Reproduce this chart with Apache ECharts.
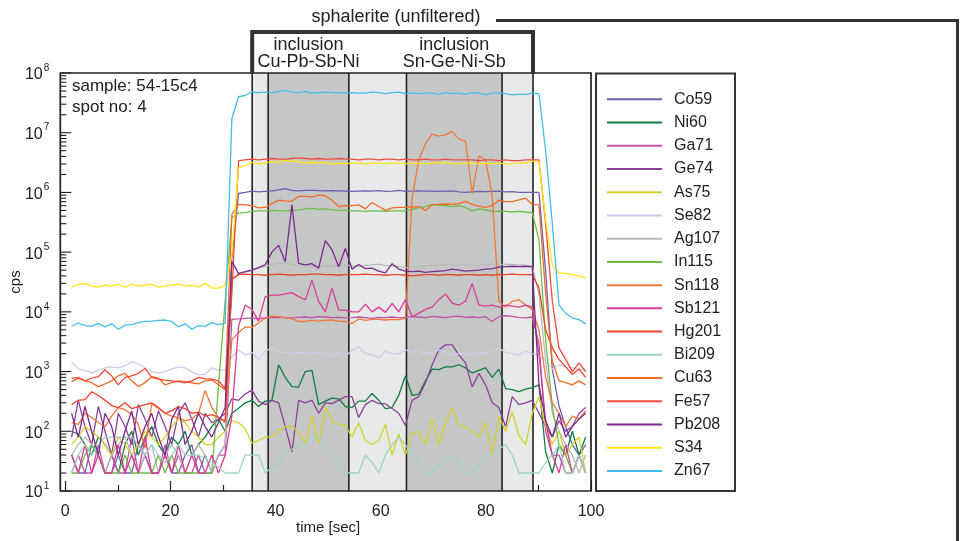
<!DOCTYPE html>
<html>
<head>
<meta charset="utf-8">
<script src="https://cdn.jsdelivr.net/npm/echarts@6/dist/echarts.min.js"></script>
<style>
  html, body { margin: 0; padding: 0; background: #ffffff; }
  #chart { width: 961px; height: 541px; }
</style>
</head>
<body>
<div id="chart"></div>
<script>
// Acquisition time of each sweep [sec]
const times = [
  1.20, 2.47, 3.74, 5.01, 6.28, 7.55, 8.82, 10.09, 11.36, 12.63,
  13.90, 15.17, 16.44, 17.71, 18.98, 20.25, 21.52, 22.79, 24.06, 25.33,
  26.60, 27.87, 29.14, 30.41, 31.68, 32.95, 34.22, 35.49, 36.76, 38.03,
  39.30, 40.57, 41.84, 43.11, 44.38, 45.65, 46.92, 48.19, 49.46, 50.73,
  52.00, 53.27, 54.54, 55.81, 57.08, 58.35, 59.62, 60.89, 62.16, 63.43,
  64.70, 65.97, 67.24, 68.51, 69.78, 71.05, 72.32, 73.59, 74.86, 76.13,
  77.40, 78.67, 79.94, 81.21, 82.48, 83.75, 85.02, 86.29, 87.56, 88.83,
  90.10, 91.37, 92.64, 93.91, 95.18, 96.45, 97.72, 98.99
];

// Count rates [cps] per isotope
const Co59 = [
  40, 20, 20, 60, 40, 20, 20, 40, 20, 20,
  60, 40, 20, 20, 40, 20, 20, 40, 60, 20,
  40, 20, 40, 60, 8.0e4, 9.6e5, 1.0e6, 1.05e6, 1.02e6, 1.04e6,
  1.06e6, 1.1e6, 1.16e6, 1.08e6, 1.06e6, 1.08e6, 1.08e6, 1.07e6, 1.06e6, 1.07e6,
  1.06e6, 1.05e6, 1.04e6, 1.05e6, 1.06e6, 1.05e6, 1.07e6, 1.04e6, 1.05e6, 1.08e6,
  1.04e6, 1.05e6, 1.06e6, 1.05e6, 1.05e6, 1.04e6, 1.05e6, 1.06e6, 1.02e6, 1.0e6,
  1.02e6, 1.04e6, 1.03e6, 1.04e6, 1.05e6, 1.02e6, 1.03e6, 1.0e6, 1.0e6, 1.0e6,
  1.0e6, 4.8e4, 1100, 265, 120, 60, 40, 60
];
const Ni60 = [
  100, 90, 60, 40, 80, 60, 40, 20, 60, 100,
  40, 80, 120, 60, 40, 80, 60, 100, 40, 60,
  80, 120, 160, 100, 200, 243, 300, 330, 260, 320,
  330, 1300, 800, 560, 550, 1000, 1050, 280, 320, 360,
  350, 260, 250, 320, 320, 430, 330, 240, 250, 400,
  850, 400, 420, 700, 1100, 1080, 1200, 1200, 1300, 1150,
  950, 1050, 1150, 800, 1100, 520, 500, 460, 510, 540,
  600, 45, 20, 60, 40, 100, 40, 80
];
const Ga71 = [
  20, 40, 20, 20, 60, 20, 40, 20, 20, 80,
  20, 40, 20, 20, 60, 20, 40, 20, 20, 40,
  20, 20, 40, 40, 7500, 7600, 7800, 7900, 7600, 8000,
  8100, 8000, 8000, 7900, 8100, 8200, 8000, 8300, 8200, 8000,
  8100, 7900, 8000, 8200, 8000, 7800, 8100, 8000, 8200, 8000,
  8100, 8300, 8200, 8000, 8400, 8200, 8000, 8300, 8500, 8100,
  8200, 8000, 8300, 6900, 8300, 8600, 8400, 8000, 7900, 8200,
  3000, 100, 40, 40, 20, 20, 40, 20
];
const Ge74 = [
  80, 330, 120, 60, 260, 100, 40, 200, 120, 60,
  280, 160, 80, 220, 120, 60, 200, 300, 160, 80,
  200, 140, 160, 200, 350, 330, 420, 490, 320, 280,
  330, 300, 120, 45, 330, 300, 330, 200, 300, 290,
  330, 380, 380, 170, 280, 330, 290, 290, 240, 200,
  125, 330, 380, 650, 1300, 2300, 2800, 2800, 1900, 1400,
  550, 930, 600, 300, 250, 120, 380, 280, 300, 330,
  200, 120, 80, 150, 100, 120, 200, 250
];
const As75 = [
  60, 80, 120, 100, 80, 60, 40, 80, 60, 40,
  60, 100, 80, 60, 80, 120, 160, 140, 100, 80,
  60, 60, 80, 100, 150, 140, 110, 63, 70, 80,
  80, 100, 120, 120, 100, 63, 185, 63, 260, 145,
  130, 125, 80, 140, 70, 60, 70, 130, 40, 90,
  40, 92, 100, 60, 165, 60, 140, 240, 125, 120,
  100, 80, 140, 40, 180, 100, 210, 85, 60, 200,
  380, 120, 60, 100, 40, 60, 80, 20
];
const Se82 = [
  1450, 1100, 1050, 950, 1050, 1150, 1200, 1150, 1250, 1450,
  1350, 1150, 1000, 950, 1000, 1100, 1200, 1150, 1000, 880,
  900, 1150, 1050, 1070, 1770, 2300, 1900, 2100, 1600, 2200,
  2500, 2100, 2100, 2000, 2100, 2050, 2000, 2100, 2000, 1800,
  2100, 1770, 2300, 2600, 2000, 1900, 1700, 2200, 2000, 2000,
  2300, 2100, 2300, 2000, 2100, 2300, 2100, 1900, 2000, 2000,
  1900, 2100, 2000, 2200, 2450, 2100, 2000, 1900, 2200, 2000,
  1900, 1500, 1100, 1300, 1200, 1150, 1100, 1050
];
const Ag107 = [
  40, 60, 80, 60, 40, 20, 40, 60, 80, 40,
  20, 40, 60, 20, 40, 60, 40, 20, 40, 60,
  40, 20, 40, 60, 3.5e4, 4.4e4, 4.6e4, 5.0e4, 5.4e4, 5.8e4,
  6.2e4, 6.5e4, 6.5e4, 6.3e4, 6.0e4, 5.8e4, 5.9e4, 5.7e4, 5.8e4, 5.9e4,
  6.0e4, 6.1e4, 5.9e4, 5.8e4, 6.0e4, 6.1e4, 6.3e4, 6.0e4, 5.9e4, 5.7e4,
  5.5e4, 5.6e4, 5.8e4, 5.9e4, 6.0e4, 6.1e4, 6.2e4, 6.0e4, 6.1e4, 6.2e4,
  6.1e4, 6.0e4, 6.2e4, 6.1e4, 6.2e4, 6.3e4, 6.2e4, 6.1e4, 6.0e4, 5.8e4,
  2.0e4, 1500, 200, 100, 60, 40, 20, 40
];
const In115 = [
  20, 20, 40, 60, 40, 20, 20, 20, 40, 20,
  20, 20, 20, 40, 20, 40, 20, 20, 20, 20,
  20, 20, 580, 1.5e4, 3.8e5, 4.5e5, 4.6e5, 4.8e5, 4.9e5, 4.9e5,
  5.0e5, 4.9e5, 4.9e5, 5.0e5, 5.1e5, 5.3e5, 5.4e5, 5.2e5, 5.3e5, 5.1e5,
  5.0e5, 5.0e5, 4.9e5, 4.9e5, 4.8e5, 4.9e5, 4.9e5, 4.8e5, 4.9e5, 4.9e5,
  4.9e5, 5.2e5, 5.5e5, 5.8e5, 6.3e5, 6.1e5, 6.0e5, 5.8e5, 6.0e5, 5.6e5,
  4.9e5, 5.3e5, 5.1e5, 4.8e5, 4.8e5, 4.8e5, 4.7e5, 4.8e5, 4.7e5, 4.6e5,
  1.6e5, 3400, 260, 60, 40, 20, 40, 20
];
const Sn118 = [
  140, 130, 200, 170, 140, 120, 180, 250, 230, 190,
  130, 52, 290, 240, 200, 180, 170, 150, 160, 200,
  480, 250, 170, 140, 3400, 4500, 5600, 5500, 6500, 7800,
  8500, 8300, 8000, 7600, 6900, 6900, 7200, 7000, 7200, 7300,
  7000, 6900, 6400, 7600, 7200, 7500, 7500, 7300, 7500, 7400,
  7800, 8.0e5, 3.5e6, 6.5e6, 9.5e6, 8.8e6, 9.2e6, 1.05e7, 7.8e6, 7.2e6,
  9.6e5, 4.1e6, 3.5e6, 8.5e5, 1.5e4, 1.2e4, 1.5e4, 1.6e4, 1.3e4, 1.1e4,
  5000, 800, 300, 200, 120, 180, 160, 220
];
const Sb121 = [
  40, 20, 60, 20, 40, 20, 20, 60, 20, 40,
  20, 80, 20, 20, 40, 20, 60, 20, 40, 20,
  20, 40, 20, 40, 180, 5700, 1.3e4, 1.1e4, 7000, 1.8e4,
  1.9e4, 1.9e4, 2.0e4, 2.1e4, 1.8e4, 1.6e4, 3.4e4, 1.5e4, 1.0e4, 2.5e4,
  1.07e4, 1.07e4, 1.0e4, 1.0e4, 1.35e4, 1.0e4, 1.2e4, 9800, 1.38e4, 1.0e4,
  1.6e4, 8300, 9500, 1.1e4, 1.2e4, 1.6e4, 2.0e4, 1.4e4, 1.3e4, 1.5e4,
  3.0e4, 1.3e4, 1.25e4, 1.3e4, 1.2e4, 1.3e4, 1.25e4, 1.2e4, 1.3e4, 1.2e4,
  2000, 150, 40, 20, 60, 20, 40, 20
];
const Hg201 = [
  280, 330, 340, 460, 400, 330, 270, 250, 300, 240,
  260, 280, 300, 250, 200, 220, 260, 240, 200, 210,
  180, 190, 170, 150, 3.5e4, 4.2e4, 4.3e4, 4.2e4, 4.2e4, 4.1e4,
  4.2e4, 4.3e4, 4.2e4, 4.1e4, 4.2e4, 4.2e4, 4.3e4, 4.3e4, 4.2e4, 4.2e4,
  4.1e4, 4.2e4, 4.2e4, 4.2e4, 4.3e4, 4.2e4, 4.2e4, 4.1e4, 4.2e4, 4.2e4,
  4.1e4, 4.0e4, 4.1e4, 4.2e4, 4.2e4, 4.1e4, 4.2e4, 4.2e4, 4.1e4, 4.2e4,
  4.2e4, 4.1e4, 4.2e4, 4.1e4, 4.2e4, 4.2e4, 4.3e4, 4.2e4, 4.2e4, 4.2e4,
  2.5e4, 5000, 2500, 1600, 1200, 900, 1100, 800
];
const Bi209 = [
  20, 40, 60, 40, 60, 80, 80, 80, 80, 80,
  60, 40, 60, 40, 30, 40, 60, 40, 40, 40,
  35, 30, 25, 20, 20, 20, 40, 40, 40, 20,
  25, 30, 40, 50, 60, 60, 80, 80, 60, 40,
  30, 20, 20, 20, 40, 30, 20, 40, 60, 80,
  60, 40, 30, 20, 20, 25, 35, 40, 30, 20,
  20, 25, 40, 45, 50, 60, 40, 20, 20, 20,
  20, 30, 40, 60, 20, 20, 40, 20
];
const Cu63 = [
  680, 770, 700, 650, 560, 620, 700, 850, 930, 700,
  560, 650, 820, 780, 600, 650, 700, 680, 650, 620,
  700, 720, 600, 490, 4.3e5, 6.3e5, 6.2e5, 6.0e5, 5.5e5, 5.6e5,
  6.5e5, 7.4e5, 7.2e5, 7.1e5, 8.6e5, 8.6e5, 8.4e5, 9.0e5, 8.8e5, 7.4e5,
  5.8e5, 6.0e5, 6.0e5, 6.2e5, 5.3e5, 6.8e5, 5.8e5, 5.0e5, 5.5e5, 5.6e5,
  5.6e5, 5.7e5, 5.8e5, 5.0e5, 6.2e5, 6.3e5, 6.4e5, 6.3e5, 6.5e5, 7.1e5,
  6.3e5, 5.9e5, 5.6e5, 6.0e5, 7.4e5, 7.0e5, 7.0e5, 7.5e5, 8.0e5, 6.3e5,
  6.2e5, 2.0e4, 1500, 700, 650, 600, 700, 600
];
const Fe57 = [
  770, 800, 700, 780, 820, 1070, 850, 600, 800, 850,
  930, 1130, 800, 750, 720, 700, 680, 650, 700, 800,
  760, 750, 700, 520, 2.0e4, 3.4e6, 3.5e6, 3.6e6, 3.5e6, 3.6e6,
  3.7e6, 3.6e6, 3.6e6, 3.7e6, 3.8e6, 3.7e6, 3.6e6, 3.7e6, 3.6e6, 3.6e6,
  3.7e6, 3.6e6, 3.6e6, 3.5e6, 3.6e6, 3.6e6, 3.5e6, 3.6e6, 3.6e6, 3.5e6,
  3.6e6, 3.5e6, 3.5e6, 3.6e6, 3.5e6, 3.5e6, 3.6e6, 3.5e6, 3.5e6, 3.5e6,
  3.5e6, 3.4e6, 3.5e6, 3.5e6, 3.4e6, 3.5e6, 3.4e6, 3.4e6, 3.5e6, 3.5e6,
  3.5e6, 3.0e5, 1.5e4, 2500, 1600, 1000, 1400, 1000
];
const Pb208 = [
  200, 80, 260, 100, 40, 200, 120, 40, 100, 220,
  60, 120, 200, 80, 40, 160, 260, 60, 100, 200,
  120, 80, 140, 250, 7.0e4, 4.4e4, 4.7e4, 5.0e4, 5.5e4, 6.2e4,
  1.0e5, 1.3e5, 6.9e4, 6.2e5, 6.5e4, 6.1e4, 6.4e4, 5.4e4, 1.56e5, 1.1e5,
  5.7e4, 1.15e5, 5.2e4, 6.2e4, 5.3e4, 5.4e4, 4.8e4, 4.5e4, 6.4e4, 5.2e4,
  4.8e4, 4.7e4, 4.8e4, 4.6e4, 4.7e4, 4.8e4, 4.9e4, 5.2e4, 5.0e4, 4.8e4,
  4.9e4, 5.0e4, 5.2e4, 5.3e4, 5.6e4, 5.7e4, 5.8e4, 5.7e4, 5.8e4, 5.7e4,
  600, 150, 80, 200, 80, 120, 160, 200
];
const S34 = [
  26000, 29000, 30000, 27000, 26000, 28000, 27000, 29000, 26000, 29000,
  27000, 28000, 29000, 26000, 27000, 28000, 29000, 27000, 28000, 26000,
  30000, 25000, 25000, 28000, 9.0e4, 2.6e6, 2.8e6, 3.2e6, 3.0e6, 3.1e6,
  3.3e6, 3.2e6, 3.4e6, 3.3e6, 3.3e6, 3.1e6, 3.2e6, 3.1e6, 3.2e6, 3.0e6,
  3.1e6, 3.0e6, 3.1e6, 3.1e6, 3.0e6, 3.1e6, 3.1e6, 3.0e6, 3.1e6, 3.1e6,
  3.0e6, 3.1e6, 3.1e6, 3.0e6, 3.1e6, 3.1e6, 3.2e6, 3.0e6, 3.0e6, 3.1e6,
  3.1e6, 3.0e6, 3.1e6, 3.0e6, 3.1e6, 3.0e6, 3.0e6, 3.1e6, 3.1e6, 3.3e6,
  3.3e6, 3.5e5, 6.0e4, 4.5e4, 4.4e4, 4.2e4, 4.0e4, 3.7e4
];
const Zn67 = [
  5800, 6500, 5900, 5700, 6400, 5600, 6300, 5100, 6000, 6100,
  6600, 6900, 7000, 7200, 7300, 6900, 5600, 6300, 5100, 5900,
  5700, 6600, 6100, 6400, 1.7e7, 4.0e7, 4.2e7, 4.8e7, 4.7e7, 4.8e7,
  4.7e7, 4.9e7, 5.1e7, 4.8e7, 4.7e7, 4.9e7, 4.6e7, 4.7e7, 4.8e7, 4.7e7,
  4.7e7, 4.6e7, 4.7e7, 4.6e7, 4.6e7, 4.8e7, 4.7e7, 4.5e7, 4.7e7, 4.8e7,
  4.5e7, 4.6e7, 4.5e7, 4.6e7, 4.6e7, 4.4e7, 4.7e7, 4.5e7, 4.6e7, 4.4e7,
  4.7e7, 4.6e7, 4.3e7, 4.6e7, 4.6e7, 4.5e7, 4.3e7, 4.4e7, 4.4e7, 4.6e7,
  4.5e7, 5.0e6, 3.0e5, 1.3e4, 9500, 7900, 7400, 6300
];

// Integration windows [sec]: whole sphalerite interval and the two inclusions
const hostWindow = [35.55, 88.97];
const inclusionWindows = [[38.59, 53.94], [64.9, 83.08]];
const windowEdges = [35.55, 38.59, 53.94, 64.9, 83.08, 88.97];

// Axis ranges
const timeRange = [0, 100];
const cpsRange = [10, 1e8];

// Intermediate log ticks (2..9 within each decade)
const cpsMinorTicks = [];
for (let e = 1; e < 8; e++) {
  for (let m = 2; m <= 9; m++) cpsMinorTicks.push(m * Math.pow(10, e));
}

const FONT = 'Liberation Sans, Arial, Helvetica, sans-serif';
const INK = '#222222';
const AXIS_SHIFT = 5; // y axis spine sits a few px left of t = 0

const isotopes = [
  ['Co59', Co59, '#6e5fae'],
  ['Ni60', Ni60, '#137b43'],
  ['Ga71', Ga71, '#c154a6'],
  ['Ge74', Ge74, '#8c4199'],
  ['As75', As75, '#d6d22c'],
  ['Se82', Se82, '#cbcbee'],
  ['Ag107', Ag107, '#b9b9b9'],
  ['In115', In115, '#6ebd44'],
  ['Sn118', Sn118, '#f3773a'],
  ['Sb121', Sb121, '#d93c97'],
  ['Hg201', Hg201, '#e8442b'],
  ['Bi209', Bi209, '#9fd6bd'],
  ['Cu63', Cu63, '#f26a24'],
  ['Fe57', Fe57, '#ee4b3e'],
  ['Pb208', Pb208, '#7a2b8e'],
  ['S34', S34, '#ffe714'],
  ['Zn67', Zn67, '#45bcec']
];

const lineSeries = isotopes.map(([name, vals, color]) => ({
  name: name,
  type: 'line',
  data: times.map((t, i) => [t, vals[i]]),
  symbol: 'none',
  showSymbol: false,
  z: 3,
  lineStyle: { width: 1.3, color: color },
  itemStyle: { color: color },
  emphasis: { disabled: true }
}));

const windowRects = [
  [hostWindow[0], hostWindow[1], cpsRange[0], cpsRange[1]],
  [inclusionWindows[0][0], inclusionWindows[0][1], cpsRange[0], cpsRange[1]],
  [inclusionWindows[1][0], inclusionWindows[1][1], cpsRange[0], cpsRange[1]]
];
const windowFills = ['#e8eae9', '#c5c7c6', '#c5c7c6'];

const bandSeries = {
  name: 'windows',
  type: 'custom',
  z: 1,
  silent: true,
  encode: { x: [0, 1], y: [2, 3] },
  data: windowRects,
  renderItem: function (params, api) {
    const p0 = api.coord([api.value(0), api.value(3)]);
    const p1 = api.coord([api.value(1), api.value(2)]);
    return {
      type: 'rect',
      shape: { x: p0[0], y: p0[1], width: p1[0] - p0[0], height: p1[1] - p0[1] },
      style: { fill: windowFills[params.dataIndex] }
    };
  }
};

const edgeSeries = {
  name: 'edges',
  type: 'custom',
  z: 2,
  silent: true,
  encode: { x: 0, y: [1, 2] },
  data: windowEdges.map(x => [x, cpsRange[0], cpsRange[1]]),
  renderItem: function (params, api) {
    const top = api.coord([api.value(0), api.value(2)]);
    const bottom = api.coord([api.value(0), api.value(1)]);
    return {
      type: 'line',
      shape: { x1: top[0], y1: top[1], x2: bottom[0], y2: bottom[1] },
      style: { stroke: INK, lineWidth: 1.6 }
    };
  }
};

// Log-axis ticks drawn inward from the y spine
const cpsTickSeries = {
  name: 'cpsTicks',
  type: 'custom',
  z: 4,
  silent: true,
  clip: false,
  encode: { x: 0, y: 1 },
  data: cpsMinorTicks.map(v => [timeRange[0], v, 6])
    .concat([10, 100, 1e3, 1e4, 1e5, 1e6, 1e7, 1e8].map(v => [timeRange[0], v, 11])),
  renderItem: function (params, api) {
    const p = api.coord([api.value(0), api.value(1)]);
    const x0 = p[0] - AXIS_SHIFT;
    return {
      type: 'line',
      shape: { x1: x0, y1: p[1], x2: x0 + api.value(2), y2: p[1] },
      style: { stroke: INK, lineWidth: 1.1 }
    };
  }
};

const chart = echarts.init(document.getElementById('chart'), null, { renderer: 'canvas' });

const option = {
  animation: false,
  backgroundColor: '#ffffff',
  textStyle: { fontFamily: FONT },
  grid: { left: 65.3, right: 370, top: 73, bottom: 50, containLabel: false, outerBoundsMode: 'none' },
  xAxis: {
    type: 'value',
    min: timeRange[0],
    max: timeRange[1],
    interval: 20,
    axisLine: { show: false },
    splitLine: { show: false },
    axisTick: { show: true, inside: true, length: 10, lineStyle: { color: INK, width: 1.2 } },
    minorTick: { show: true, splitNumber: 2, length: 6, lineStyle: { color: INK, width: 1.2 } },
    axisLabel: { margin: 13, fontSize: 16, color: INK, fontFamily: FONT },
    name: 'time [sec]',
    nameLocation: 'middle',
    nameGap: 29,
    nameMoveOverlap: false,
    nameTextStyle: { fontSize: 15, color: INK, fontFamily: FONT }
  },
  yAxis: {
    type: 'log',
    logBase: 10,
    min: cpsRange[0],
    max: cpsRange[1],
    splitNumber: 7,
    offset: AXIS_SHIFT,
    axisLine: { show: false },
    splitLine: { show: false },
    axisTick: { show: false },
    minorTick: { show: false },
    axisLabel: {
      margin: 11,
      color: INK,
      formatter: function (v) {
        return '{b|10}{s|' + Math.round(Math.log10(v)) + '}';
      },
      rich: {
        b: { fontSize: 16, color: INK, fontFamily: FONT, lineHeight: 20, verticalAlign: 'bottom' },
        s: { fontSize: 10, color: INK, fontFamily: FONT, lineHeight: 20, verticalAlign: 'top', padding: [0, 0, 0, 1] }
      }
    },
    name: 'cps',
    nameLocation: 'middle',
    nameGap: 37,
    nameMoveOverlap: false,
    nameRotate: 90,
    nameTextStyle: { fontSize: 15, color: INK, fontFamily: FONT }
  },
  legend: {
    data: isotopes.map(d => d[0]),
    orient: 'vertical',
    left: 607,
    top: 91.3,
    padding: 0,
    icon: 'rect',
    itemWidth: 55,
    itemHeight: 2,
    itemGap: 7.23,
    selectedMode: false,
    textStyle: { fontSize: 16, color: INK, fontFamily: FONT, lineHeight: 16, padding: [0, 0, 0, 7] }
  },
  series: [bandSeries, edgeSeries].concat(lineSeries, [cpsTickSeries])
};

chart.setOption(option);

// Annotation bracket over the sphalerite interval, tied to the axis scale
const xLeft = chart.convertToPixel({ xAxisIndex: 0 }, hostWindow[0]);
const xRight = chart.convertToPixel({ xAxisIndex: 0 }, hostWindow[1]);
const xInc1 = chart.convertToPixel({ xAxisIndex: 0 }, (inclusionWindows[0][0] + inclusionWindows[0][1]) / 2);
const xInc2 = chart.convertToPixel({ xAxisIndex: 0 }, (inclusionWindows[1][0] + inclusionWindows[1][1]) / 2);
const plotTop = chart.convertToPixel({ yAxisIndex: 0 }, cpsRange[1]);
const plotBottom = chart.convertToPixel({ yAxisIndex: 0 }, cpsRange[0]);
const plotLeft = chart.convertToPixel({ xAxisIndex: 0 }, timeRange[0]) - AXIS_SHIFT;
const plotRight = chart.convertToPixel({ xAxisIndex: 0 }, timeRange[1]);

const label = (text, x, y, size, align) => ({
  type: 'text', z: 110,
  style: { text: text, x: x, y: y, fill: INK, font: size + 'px ' + FONT, textAlign: align || 'center', textVerticalAlign: 'middle' }
});

chart.setOption({
  graphic: [
    // plot frame
    { type: 'rect', z: 100, silent: true,
      shape: { x: plotLeft, y: plotTop, width: plotRight - plotLeft, height: plotBottom - plotTop },
      style: { fill: 'none', stroke: INK, lineWidth: 1.7 } },
    // legend frame
    { type: 'rect', z: 100, silent: true,
      shape: { x: 596, y: plotTop + 0.5, width: 139, height: plotBottom - plotTop - 0.5 },
      style: { fill: 'none', stroke: '#333333', lineWidth: 2 } },
    // bracket
    { type: 'polyline', z: 100, silent: true,
      shape: { points: [[xLeft, plotTop + 1], [xLeft, 32], [xRight, 32], [xRight, plotTop + 1]] },
      style: { fill: 'none', stroke: '#333333', lineWidth: 4 } },
    // leader line to the next panel
    { type: 'polyline', z: 100, silent: true,
      shape: { points: [[496, 20.5], [957.5, 20.5], [957.5, 541]] },
      style: { fill: 'none', stroke: '#333333', lineWidth: 3 } },
    label('sphalerite (unfiltered)', 396, 17, 18),
    label('inclusion', xInc1, 45, 18),
    label('Cu-Pb-Sb-Ni', xInc1, 62, 18),
    label('inclusion', xInc2, 45, 18),
    label('Sn-Ge-Ni-Sb', xInc2, 62, 18),
    label('sample: 54-15c4', 72, 86.5, 17, 'left'),
    label('spot no: 4', 72, 107.5, 17, 'left')
  ]
});
</script>
</body>
</html>
